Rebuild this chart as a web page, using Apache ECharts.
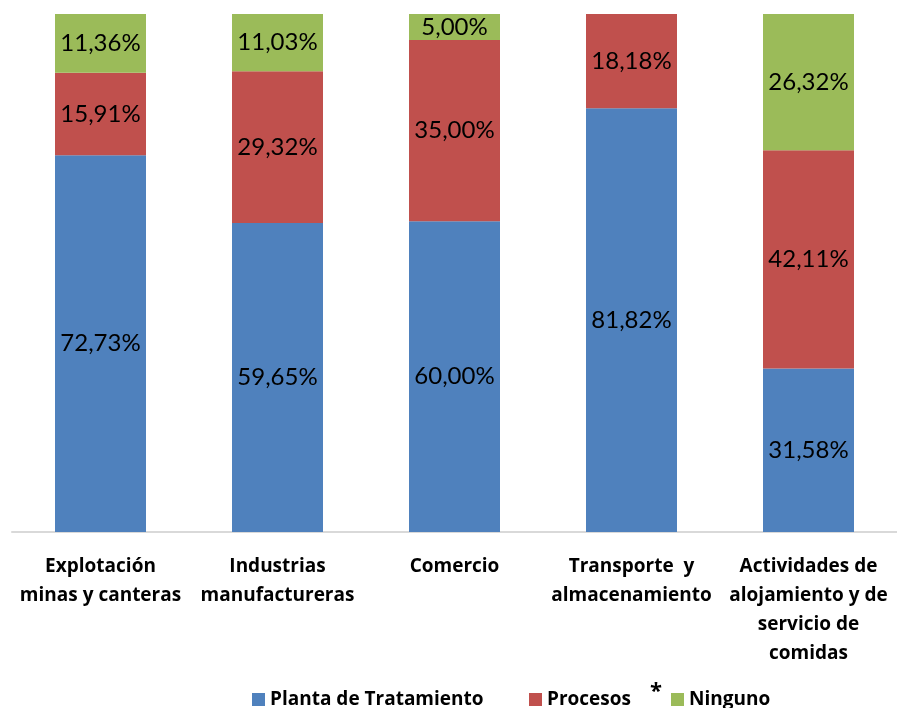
<!DOCTYPE html>
<html>
<head>
  <meta charset="utf-8">
  <title>Tratamiento por actividad</title>
  <script src="https://cdn.jsdelivr.net/npm/echarts@6/dist/echarts.min.js"></script>
</head>
<body style="margin:0">
<div id="main" style="width:897px;height:708px;"></div>
<script type="text/javascript">
// datos del grafico
var categorias = ['Explotación\nminas y canteras', 'Industrias\nmanufactureras', 'Comercio',
  'Transporte  y\nalmacenamiento', 'Actividades de\nalojamiento y de\nservicio de\ncomidas'];
var planta = [72.73, 59.65, 60.00, 81.82, 31.58];
var procesos = [15.91, 29.32, 35.00, 18.18, 42.11];
var ninguno = [11.36, 11.03, 5.00, 0, 26.32];

var fuente = 'Lato';
var fuenteNegrita = 'Open Sans';
var etiqueta = {
  show: true,
  position: 'inside',
  color: '#000',
  fontFamily: fuente,
  fontSize: 24,
  formatter: function (p) {
    if (!p.value) return '';
    return p.value.toFixed(2).replace('.', ',') + '%';
  }
};
var textoLeyenda = { fontFamily: fuenteNegrita, fontWeight: 'bold', fontSize: 19, color: '#000' };

var myChart = echarts.init(document.getElementById('main'));
var option = {
  animation: false,
  grid: { left: 12, top: 14, width: 887, height: 518, containLabel: false },
  legend: [
    { data: ['Planta de Tratamiento'], left: 252, top: 690, padding: 0, itemWidth: 13, itemHeight: 13,
      icon: 'rect', textStyle: textoLeyenda },
    { data: ['Procesos'], left: 529, top: 690, padding: 0, itemWidth: 13, itemHeight: 13,
      icon: 'rect', textStyle: textoLeyenda },
    { data: ['Ninguno'], left: 671, top: 690, padding: 0, itemWidth: 13, itemHeight: 13,
      icon: 'rect', textStyle: textoLeyenda }
  ],
  graphic: [{
    type: 'text', left: 650, top: 681,
    style: { text: '*', fontFamily: fuenteNegrita, fontWeight: 'bold', fontSize: 22, fill: '#000' }
  }],
  xAxis: {
    type: 'category',
    data: categorias,
    axisLine: { lineStyle: { color: '#d9d9d9', width: 2 } },
    axisTick: { show: false },
    axisLabel: {
      interval: 0, margin: 20, color: '#000', fontFamily: fuenteNegrita, fontWeight: 'bold',
      fontSize: 19, lineHeight: 29, align: 'center'
    }
  },
  yAxis: { type: 'value', min: 0, max: 100, show: false, splitLine: { show: false } },
  series: [
    { name: 'Planta de Tratamiento', type: 'bar', stack: 't', barWidth: 91, data: planta,
      itemStyle: { color: '#4f81bd' }, label: etiqueta },
    { name: 'Procesos', type: 'bar', stack: 't', barWidth: 91, data: procesos,
      itemStyle: { color: '#c0504d' }, label: etiqueta },
    { name: 'Ninguno', type: 'bar', stack: 't', barWidth: 91, data: ninguno,
      itemStyle: { color: '#9bbb59' }, label: etiqueta }
  ]
};
myChart.setOption(option);
</script>
</body>
</html>
